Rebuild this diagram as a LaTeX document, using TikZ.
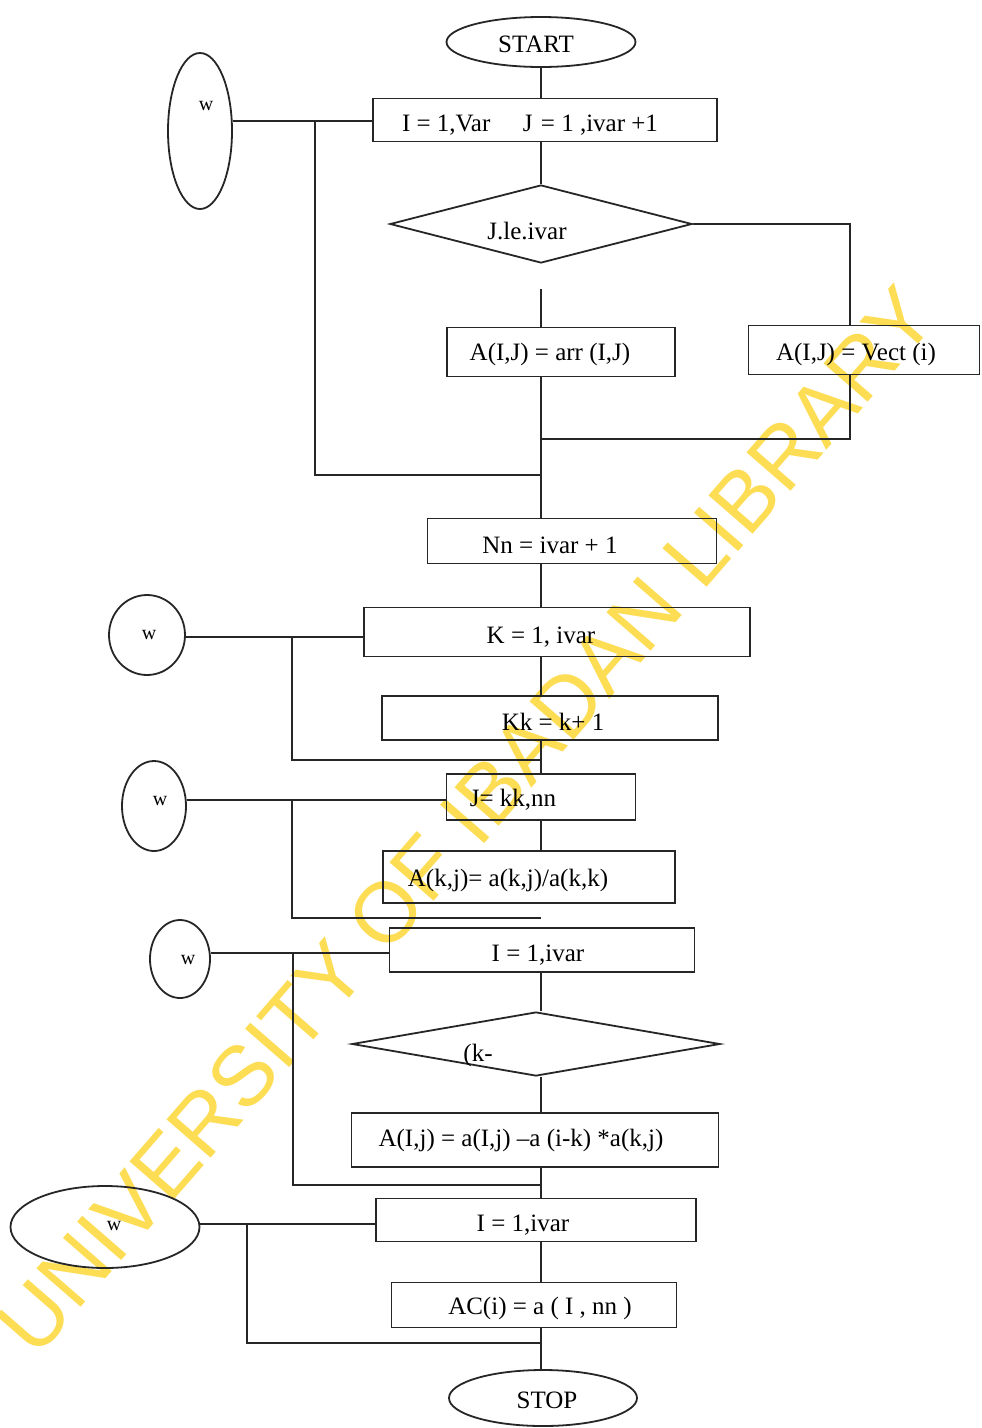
\documentclass[tikz,border=0pt]{standalone}
\usepackage{fontspec}
\setmainfont{Liberation Serif}
\newfontfamily\wmfont{Liberation Sans}
\usetikzlibrary{shapes.geometric}
\definecolor{wmyellow}{RGB}{253,221,84}
\tikzset{
  ln/.style={line width=1.8pt, black!85},
  boxnode/.style={draw, line width=1.8pt, black!85, rectangle, inner sep=0pt},
  ellnode/.style={draw, line width=1.8pt, black!85, ellipse, inner sep=0pt},
  dianode/.style={draw, line width=1.8pt, black!85, diamond, inner sep=0pt},
  txt/.style={inner sep=0pt, font=\fontsize{25}{30}\selectfont},
  wtxt/.style={inner sep=0pt, font=\fontsize{20}{24}\selectfont}
}
\begin{document}
\begin{tikzpicture}[x=1pt,y=-1pt]
\useasboundingbox (0,0) rectangle (982,1428);
\fill[white] (0,0) rectangle (982,1428);
% watermark (behind the drawing)
\node[rotate=49, text=wmyellow, inner sep=0pt, draw=wmyellow, draw opacity=0,
      font=\fontsize{85}{85}\selectfont\wmfont] (wm) at (466,820) {UNIVERSITY OF IBADAN LIBRARY};
\coordinate (ax) at (541,0);
% shapes
\node[ellnode, minimum width=189pt, minimum height=50pt] (start) at (541,42) {};
\node[boxnode, minimum width=344pt, minimum height=43pt] (b1) at (545,120) {};
\node[ellnode, minimum width=64pt, minimum height=156pt] (w1) at (200,131) {};
\node[dianode, minimum width=302pt, minimum height=78pt] (d1) at (541,224) {};
\node[boxnode, minimum width=228pt, minimum height=49pt] (b2) at (561,352) {};
\node[boxnode, minimum width=231pt, minimum height=49pt] (b3) at (864,350) {};
\node[boxnode, minimum width=289pt, minimum height=45pt] (nn) at (572,541) {};
\node[boxnode, minimum width=386pt, minimum height=49pt] (kb) at (557,632) {};
\node[ellnode, minimum width=76pt, minimum height=80pt] (w2) at (147,635) {};
\node[boxnode, minimum width=336pt, minimum height=44pt] (kk) at (550,718) {};
\node[boxnode, minimum width=189pt, minimum height=46pt] (jb) at (541,797) {};
\node[ellnode, minimum width=64pt, minimum height=90pt] (w3) at (154,806) {};
\node[boxnode, minimum width=292pt, minimum height=52pt] (akj) at (529,877) {};
\node[boxnode, minimum width=305pt, minimum height=44pt] (i1) at (542,950) {};
\node[ellnode, minimum width=60pt, minimum height=78pt] (w4) at (180,959) {};
\node[dianode, minimum width=368pt, minimum height=64pt] (d2) at (536,1044) {};
\node[boxnode, minimum width=367pt, minimum height=54pt] (aij) at (535,1140) {};
\node[boxnode, minimum width=320pt, minimum height=43pt] (i2) at (536,1220) {};
\node[ellnode, minimum width=189pt, minimum height=82pt] (w5) at (105,1227) {};
\node[boxnode, minimum width=285pt, minimum height=45pt] (ac) at (534,1305) {};
\node[ellnode, minimum width=188pt, minimum height=56pt] (stop) at (543,1398) {};
% texts
\node[txt] (tstart) at (536,44) {START};
\node[txt] (t1) at (530,125) {I = 1,Var\hspace{1.3em}J\,\,= 1 ,ivar +1};
\node[txt] (td1) at (527,231) {J.le.ivar};
\node[txt] (t2) at (550,354) {A(I,J) = arr (I,J)};
\node[txt] (t3) at (856,354) {A(I,J) = Vect (i)};
\node[txt] (tnn) at (550,545) {Nn = ivar + 1};
\node[txt] (tk) at (541,637) {K = 1, ivar};
\node[txt] (tkk) at (553,722) {Kk = k+ 1};
\node[txt] (tj) at (513,800) {J= kk,nn};
\node[txt] (takj) at (508,880) {A(k,j)= a(k,j)/a(k,k)};
\node[txt] (ti1) at (538,955) {I = 1,ivar};
\node[txt] (td2) at (478,1055) {(k-};
\node[txt] (taij) at (521,1140) {A(I,j) = a(I,j) --a (i-k) *a(k,j)};
\node[txt] (ti2) at (523,1225) {I = 1,ivar};
\node[txt] (tac) at (540,1308) {AC(i) = a ( I , nn )};
\node[txt] (tstop) at (547,1400) {STOP};
\node[wtxt] (tw1) at (206,106) {w};
\node[wtxt] (tw2) at (149,635) {w};
\node[wtxt] (tw3) at (160,801) {w};
\node[wtxt] (tw4) at (188,960) {w};
\node[wtxt] (tw5) at (114,1226) {w};
% junction coordinates
\coordinate (j1) at (315,121);
\coordinate (c1) at (541,475);
\coordinate (r1) at (850,439);
\coordinate (g1) at (541,289);
\coordinate (j2) at (292,637);
\coordinate (c2) at (541,760);
\coordinate (j3) at (292,800);
\coordinate (c3) at (541,918);
\coordinate (j4) at (293,953);
\coordinate (c4) at (541,1185);
\coordinate (j5) at (247,1224);
\coordinate (c5) at (541,1343);
% connectors
\draw[ln] (ax |- start.south) -- (ax |- b1.north);
\draw[ln] (w1.east |- j1) -- (b1.west |- j1);
\draw[ln] (j1) |- (c1);
\draw[ln] (ax |- b1.south) -- (ax |- d1.north);
\draw[ln] (d1.east) -| (r1 |- b3.north);
\draw[ln] (g1) -- (ax |- b2.north);
\draw[ln] (r1 |- b3.south) -- (r1) -- (ax |- r1);
\draw[ln] (ax |- b2.south) -- (ax |- nn.north);
\draw[ln] (ax |- nn.south) -- (ax |- kb.north);
\draw[ln] (w2.east |- j2) -- (kb.west |- j2);
\draw[ln] (j2) |- (c2);
\draw[ln] (ax |- kb.south) -- (ax |- kk.north);
\draw[ln] (ax |- kk.south) -- (ax |- jb.north);
\draw[ln] (w3.east |- j3) -- (jb.west |- j3);
\draw[ln] (j3) |- (c3);
\draw[ln] (ax |- jb.south) -- (ax |- akj.north);
\draw[ln] (w4.east |- j4) -- (i1.west |- j4);
\draw[ln] (j4) |- (c4);
\draw[ln] (ax |- i1.south) -- (ax |- d2.north);
\draw[ln] (ax |- d2.south) -- (ax |- aij.north);
\draw[ln] (ax |- aij.south) -- (ax |- i2.north);
\draw[ln] (w5.east |- j5) -- (i2.west |- j5);
\draw[ln] (j5) |- (c5);
\draw[ln] (ax |- i2.south) -- (ax |- ac.north);
\draw[ln] (ax |- ac.south) -- (ax |- stop.north);
\end{tikzpicture}
\end{document}
